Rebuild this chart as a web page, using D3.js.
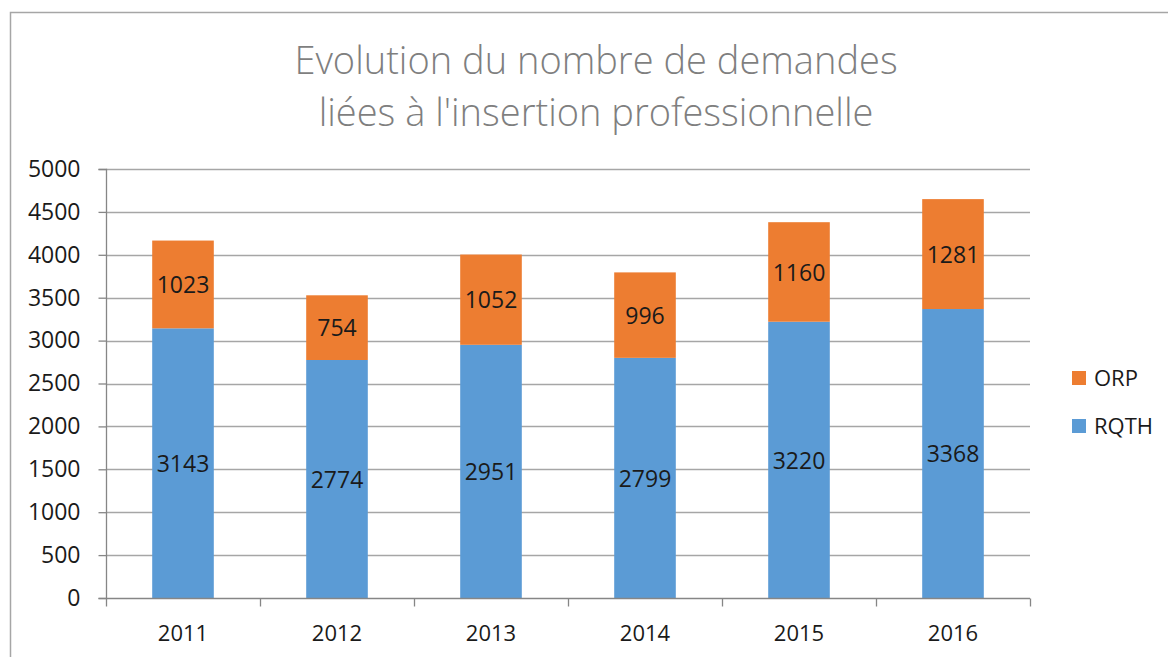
<!DOCTYPE html>
<html><head><meta charset="utf-8">
<script src="https://cdn.jsdelivr.net/npm/d3@7"></script>
<style>body{margin:0;background:#fff}svg{display:block}</style>
</head><body>
<svg id="c" width="1168" height="657"></svg>
<script>
const years = ["2011","2012","2013","2014","2015","2016"];
const rqth = [3143,2774,2951,2799,3220,3368];
const orp = [1023,754,1052,996,1160,1281];
const yTicks = [0,500,1000,1500,2000,2500,3000,3500,4000,4500,5000];
const seriesNames = ["RQTH","ORP"];
const colors = {RQTH:"#5B9BD5", ORP:"#ED7D31"};
const titleLines = ["Evolution du nombre de demandes","liées à l'insertion professionnelle"];

const svg = d3.select("#c");
const font = "'Open Sans', 'Noto Sans', sans-serif";
// frame
svg.append("path").attr("d","M10.5,657 L10.5,12.5 L1168,12.5").attr("fill","none").attr("stroke","#A6A6A6").attr("stroke-width",1.5);

const L=106, R=1030, T=169, B=598;
const x = d3.scaleBand().domain(years).range([L,R]).paddingInner(0.6).paddingOuter(0.3);
const y = d3.scaleLinear().domain([0,5000]).range([B,T]);

// gridlines
svg.append("g").selectAll("line").data(yTicks.filter(d=>d>0)).join("line")
 .attr("x1",L).attr("x2",R).attr("y1",d=>Math.round(y(d))+0.5).attr("y2",d=>Math.round(y(d))+0.5)
 .attr("stroke","#A6A6A6").attr("stroke-width",1.3);

const data = years.map((yr,i)=>({year:yr,RQTH:rqth[i],ORP:orp[i]}));
const stack = d3.stack().keys(seriesNames)(data);
svg.append("g").selectAll("g").data(stack).join("g").attr("fill",s=>colors[s.key])
 .selectAll("rect").data(s=>s.map(d=>({d,key:s.key}))).join("rect")
 .attr("x",o=>x(o.d.data.year)).attr("width",x.bandwidth())
 .attr("y",o=>y(o.d[1])).attr("height",o=>y(o.d[0])-y(o.d[1]));

// labels
svg.append("g").selectAll("g").data(stack).join("g")
 .selectAll("text").data(s=>s.map(d=>({d,key:s.key}))).join("text")
 .attr("x",o=>x(o.d.data.year)+x.bandwidth()/2).attr("y",o=>(y(o.d[0])+y(o.d[1]))/2)
 .attr("dy","0.38em").attr("text-anchor","middle")
 .attr("font-family",font).attr("font-size",23).attr("fill","#1a1a1a")
 .text(o=>o.d.data[o.key]);

// y axis
const yAxis = d3.axisLeft(y).tickValues(yTicks).tickFormat(d3.format("d")).tickSize(8).tickPadding(18);
const gy = svg.append("g").attr("transform",`translate(${L+0.5},0)`).call(yAxis);
gy.select(".domain").attr("stroke","#868686").attr("stroke-width",1.3).attr("d",`M-8,${B+0.5}H0V${T+0.5}H-8`);
gy.selectAll(".tick line").attr("stroke","#868686").attr("stroke-width",1.3);
gy.selectAll(".tick text").attr("font-family",font).attr("font-size",23).attr("fill","#1a1a1a");

// x axis
const xb = d3.scalePoint().domain(d3.range(years.length+1)).range([L,R]);
const gx = svg.append("g").attr("transform",`translate(0,${B+0.5})`);
gx.append("line").attr("x1",L).attr("x2",R).attr("stroke","#868686").attr("stroke-width",1.3);
gx.selectAll("line.t").data(d3.range(years.length+1)).join("line").attr("class","t")
 .attr("x1",d=>Math.round(xb(d))+0.5).attr("x2",d=>Math.round(xb(d))+0.5).attr("y1",0).attr("y2",8)
 .attr("stroke","#868686").attr("stroke-width",1.3);
gx.selectAll("text").data(years).join("text")
 .attr("x",d=>x(d)+x.bandwidth()/2).attr("y",42).attr("text-anchor","middle")
 .attr("font-family",font).attr("font-size",22).attr("fill","#1a1a1a").text(d=>d);

// title
svg.append("g").selectAll("text").data(titleLines).join("text")
 .attr("x",596).attr("y",(d,i)=>74+i*52).attr("text-anchor","middle")
 .attr("font-family",font).attr("font-weight",300).attr("font-size",38).attr("fill","#7F7F7F").text(d=>d);

// legend
const leg = svg.append("g").selectAll("g").data(["ORP","RQTH"]).join("g")
 .attr("transform",(d,i)=>`translate(1072,${371+i*48})`);
leg.append("rect").attr("width",14).attr("height",14).attr("fill",d=>colors[d]);
leg.append("text").attr("x",22).attr("y",7).attr("dy","0.36em")
 .attr("font-family",font).attr("font-size",22).attr("fill","#1a1a1a").text(d=>d);
</script>
</body></html>
